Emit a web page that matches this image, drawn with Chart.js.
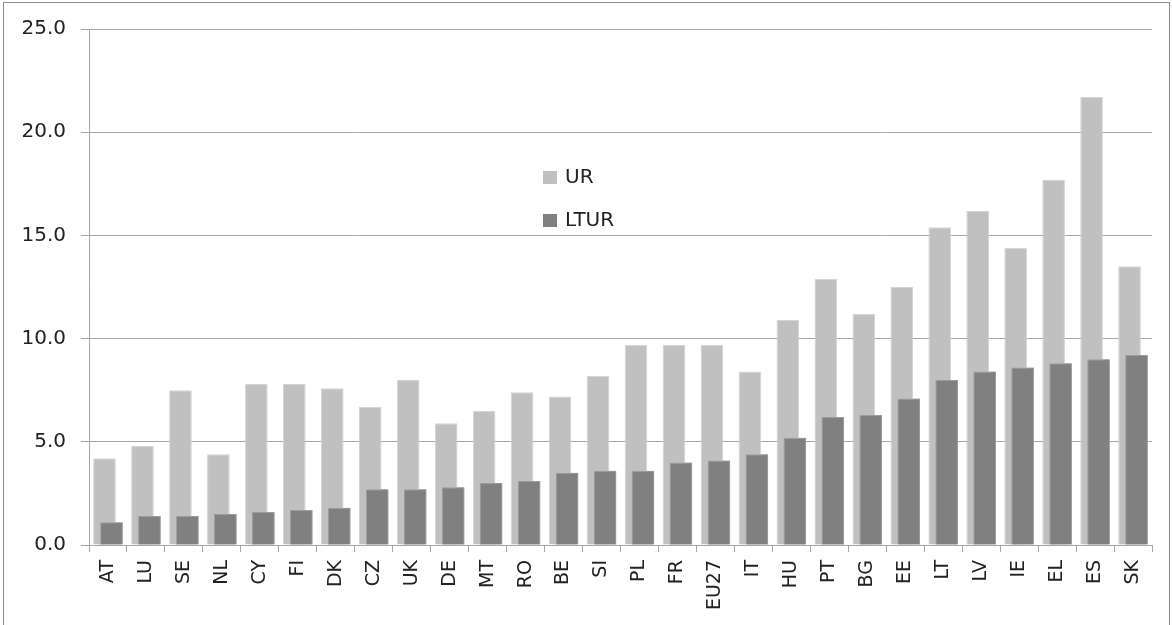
<!DOCTYPE html>
<html lang="en">
<head>
    <meta charset="UTF-8">
    <title>UR and LTUR</title>
    <script src="https://cdn.jsdelivr.net/npm/chart.js"></script>
    <style>
        body { margin: 0; background: #fff; }
        canvas { display: block; }
    </style>
</head>
<body>
    <canvas id="barChart" width="1172" height="625"></canvas>

    <script>
        // Country codes (x axis)
        const categories = ['AT', 'LU', 'SE', 'NL', 'CY', 'FI', 'DK', 'CZ', 'UK', 'DE', 'MT', 'RO', 'BE',
            'SI', 'PL', 'FR', 'EU27', 'IT', 'HU', 'PT', 'BG', 'EE', 'LT', 'LV', 'IE', 'EL', 'ES', 'SK'];
        // Unemployment rate
        const urValues = [4.2, 4.8, 7.5, 4.4, 7.8, 7.8, 7.6, 6.7, 8.0, 5.9, 6.5, 7.4, 7.2,
            8.2, 9.7, 9.7, 9.7, 8.4, 10.9, 12.9, 11.2, 12.5, 15.4, 16.2, 14.4, 17.7, 21.7, 13.5];
        // Long-term unemployment rate
        const lturValues = [1.1, 1.4, 1.4, 1.5, 1.6, 1.7, 1.8, 2.7, 2.7, 2.8, 3.0, 3.1, 3.5,
            3.6, 3.6, 4.0, 4.1, 4.4, 5.2, 6.2, 6.3, 7.1, 8.0, 8.4, 8.6, 8.8, 9.0, 9.2];
        const yTicks = [0, 5, 10, 15, 20, 25];

        const gridColor = '#a6a6a6';
        const textColor = '#222';

        // outer frame, LTUR on top of UR, legend inside the plot
        const extras = {
            id: 'extras',
            beforeDraw(chart) {
                const c = chart.ctx;
                c.save();
                c.strokeStyle = '#8c8c8c';
                c.lineWidth = 1;
                c.strokeRect(3.5, 2.5, 1166, 700);
                c.restore();
            },
            afterDatasetsDraw(chart) {
                // chart.js paints dataset 0 last; repaint LTUR so it sits in front
                const meta = chart.getDatasetMeta(1);
                const c = chart.ctx;
                c.save();
                meta.controller.draw();
                c.restore();
            },
            afterDraw(chart) {
                const c = chart.ctx;
                const a = chart.chartArea;
                c.save();
                c.font = '20px "DejaVu Sans"';
                c.textBaseline = 'middle';
                chart.data.datasets.forEach((ds, i) => {
                    const x = a.left + 454;
                    const y = a.top + 149 + i * 43;
                    c.fillStyle = ds.backgroundColor;
                    c.fillRect(x, y - 7, 14, 13);
                    c.fillStyle = textColor;
                    c.fillText(ds.label, x + 22, y);
                });
                c.restore();
            }
        };

        const ctx = document.getElementById('barChart').getContext('2d');
        const barChart = new Chart(ctx, {
            type: 'bar',
            data: {
                labels: categories,
                datasets: [
                    {
                        label: 'UR',
                        data: urValues,
                        backgroundColor: '#c0c0c0',
                        borderColor: '#d4d4d4',
                        borderWidth: 1
                    },
                    {
                        label: 'LTUR',
                        data: lturValues,
                        backgroundColor: '#808080',
                        borderColor: '#9c9c9c',
                        borderWidth: 1
                    }
                ]
            },
            options: {
                responsive: false,
                animation: false,
                categoryPercentage: 0.366,
                barPercentage: 3.26,
                layout: { padding: { top: 29, right: 20, left: 0, bottom: 0 } },
                plugins: {
                    legend: { display: false },
                    tooltip: { enabled: false }
                },
                scales: {
                    x: {
                        afterFit: (s) => { s.height = 80; },
                        grid: {
                            drawOnChartArea: false,
                            tickLength: 7,
                            color: gridColor
                        },
                        border: { color: gridColor },
                        ticks: {
                            maxRotation: 90,
                            minRotation: 90,
                            autoSkip: false,
                            padding: 8,
                            color: textColor,
                            font: { family: 'DejaVu Sans', size: 19 }
                        }
                    },
                    y: {
                        min: 0,
                        max: 25,
                        afterFit: (s) => { s.width = 89; },
                        afterBuildTicks: (s) => { s.ticks = yTicks.map(v => ({ value: v })); },
                        grid: {
                            tickLength: 8,
                            color: gridColor
                        },
                        border: { color: gridColor },
                        ticks: {
                            padding: 15,
                            color: textColor,
                            font: { family: 'DejaVu Sans', size: 20 },
                            callback: (v) => Number(v).toFixed(1)
                        }
                    }
                }
            },
            plugins: [extras]
        });
    </script>
</body>
</html>
